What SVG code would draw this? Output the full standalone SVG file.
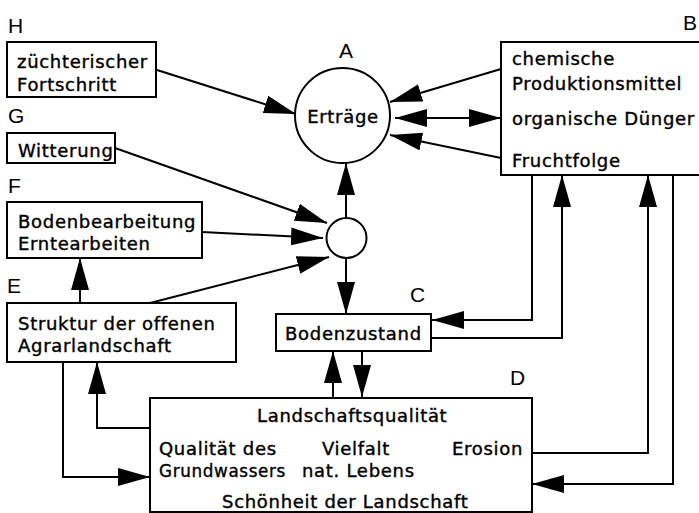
<svg xmlns="http://www.w3.org/2000/svg" width="699" height="513" viewBox="0 0 699 513">
<defs>
<marker id="ah" markerUnits="userSpaceOnUse" markerWidth="32" markerHeight="18" refX="32" refY="9" orient="auto-start-reverse" viewBox="0 0 32 18">
<path d="M0,0 L32,9 L0,18 Z" fill="#000"/>
</marker>
<style>
.box{fill:#fff;stroke:#000;stroke-width:2}
.t{font-family:"DejaVu Sans",sans-serif;font-size:18px;letter-spacing:0.7px;fill:#000;stroke:#000;stroke-width:0.4px}
.lbl{font-family:"Liberation Sans",sans-serif;font-size:21px;fill:#000}
.c{stroke:#000;stroke-width:2;fill:none;marker-end:url(#ah)}
</style>
</defs>
<rect width="699" height="513" fill="#fff"/>
<g id="connectors">
<line class="c" x1="157" y1="70" x2="296" y2="114"/>
<line class="c" x1="501" y1="69" x2="390" y2="102"/>
<line class="c" x1="395" y1="118" x2="501" y2="118" style="marker-start:url(#ah)"/>
<line class="c" x1="501" y1="158" x2="390" y2="135"/>
<line class="c" x1="115" y1="148" x2="327" y2="223"/>
<line class="c" x1="202" y1="232" x2="323" y2="238"/>
<line class="c" x1="150" y1="303" x2="329" y2="257"/>
<line class="c" x1="80" y1="303" x2="80" y2="258"/>
<line class="c" x1="346" y1="218" x2="346" y2="163"/>
<line class="c" x1="346" y1="258" x2="346" y2="314"/>
<line class="c" x1="333" y1="398" x2="333" y2="351"/>
<line class="c" x1="362" y1="351" x2="362" y2="397"/>
<polyline class="c" points="532,175 532,320 432,320"/>
<polyline class="c" points="431,338 562,338 562,175"/>
<polyline class="c" points="532,453 648,453 648,175"/>
<polyline class="c" points="673,175 673,484 532,484"/>
<polyline class="c" points="63,362 63,477 150,477"/>
<polyline class="c" points="150,428 97,428 97,362"/>
</g>
<g id="H">
<text class="lbl" x="8" y="33">H</text>
<rect class="box" x="7" y="42" width="149" height="55"/>
<text class="t" x="17" y="68">züchterischer</text>
<text class="t" x="17" y="91">Fortschritt</text>
</g>
<g id="G">
<text class="lbl" x="8" y="123">G</text>
<rect class="box" x="7" y="133" width="108" height="30"/>
<text class="t" x="18" y="157">Witterung</text>
</g>
<g id="F">
<text class="lbl" x="8" y="193">F</text>
<rect class="box" x="7" y="202" width="195" height="56"/>
<text class="t" x="18" y="228">Bodenbearbeitung</text>
<text class="t" x="18" y="250">Erntearbeiten</text>
</g>
<g id="E">
<text class="lbl" x="7" y="293">E</text>
<rect class="box" x="7" y="303" width="229" height="59"/>
<text class="t" x="18" y="330">Struktur der offenen</text>
<text class="t" x="18" y="352">Agrarlandschaft</text>
</g>
<g id="A">
<text class="lbl" x="346" y="58" text-anchor="middle">A</text>
<circle cx="342.5" cy="115.5" r="47.5" fill="#fff" stroke="#000" stroke-width="2"/>
<text class="t" x="343" y="123" text-anchor="middle">Erträge</text>
</g>
<g id="K">
<circle cx="346.5" cy="238" r="20" fill="#fff" stroke="#000" stroke-width="2"/>
</g>
<g id="B">
<text class="lbl" x="683" y="30">B</text>
<rect class="box" x="501" y="42" width="202" height="133"/>
<text class="t" x="512" y="65">chemische</text>
<text class="t" x="512" y="90">Produktionsmittel</text>
<text class="t" x="512" y="125">organische Dünger</text>
<text class="t" x="512" y="167">Fruchtfolge</text>
</g>
<g id="C">
<text class="lbl" x="410" y="302">C</text>
<rect class="box" x="276" y="314" width="155" height="37"/>
<text class="t" x="285" y="340">Bodenzustand</text>
</g>
<g id="D">
<text class="lbl" x="510" y="385">D</text>
<rect class="box" x="150" y="398" width="382" height="114"/>
<text class="t" x="257" y="422">Landschaftsqualität</text>
<text class="t" x="159" y="455">Qualität des</text>
<text class="t" x="322" y="455">Vielfalt</text>
<text class="t" x="452" y="455">Erosion</text>
<text class="t" x="159" y="477" textLength="127" lengthAdjust="spacingAndGlyphs">Grundwassers</text>
<text class="t" x="302" y="477">nat. Lebens</text>
<text class="t" x="222" y="508">Schönheit der Landschaft</text>
</g>
</svg>
